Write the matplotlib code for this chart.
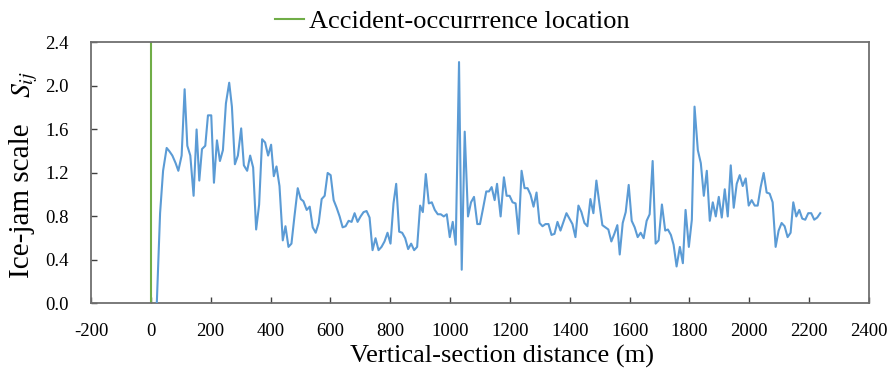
import matplotlib
matplotlib.use("Agg")
import matplotlib.pyplot as plt

# Data
distance_m = [20, 31, 41, 53, 62, 72, 83, 92, 103, 113, 122, 132, 143, 153, 162, 171, 182, 191, 202, 211,
              221, 231, 241, 251, 262, 271, 281, 291, 302, 311, 322, 332, 342, 352, 362, 372, 382, 392, 402, 411,
              420, 430, 441, 450, 460, 470, 480, 491, 501, 510, 521, 531, 541, 551, 561, 571, 581, 591, 601, 611,
              621, 631, 641, 651, 661, 671, 681, 691, 701, 711, 721, 731, 741, 751, 761, 771, 781, 791, 801, 811,
              820, 830, 840, 850, 860, 870, 880, 890, 900, 909, 919, 929, 939, 949, 959, 969, 979, 989, 999, 1009,
              1019, 1030, 1039, 1049, 1060, 1070, 1080, 1091, 1100, 1110, 1121, 1130, 1139, 1149, 1157, 1169, 1180, 1189, 1199, 1209,
              1219, 1229, 1239, 1249, 1259, 1269, 1279, 1289, 1299, 1309, 1319, 1329, 1339, 1349, 1359, 1369, 1379, 1389, 1399, 1409,
              1419, 1429, 1439, 1449, 1459, 1469, 1479, 1489, 1499, 1509, 1519, 1529, 1539, 1549, 1559, 1567, 1577, 1587, 1597, 1607,
              1617, 1627, 1637, 1647, 1657, 1667, 1677, 1687, 1697, 1708, 1719, 1728, 1738, 1747, 1757, 1768, 1778, 1787, 1798, 1808,
              1817, 1828, 1838, 1848, 1858, 1868, 1878, 1888, 1898, 1908, 1918, 1928, 1938, 1948, 1958, 1968, 1978, 1988, 1998, 2008,
              2018, 2028, 2038, 2048, 2058, 2068, 2078, 2088, 2098, 2108, 2118, 2128, 2138, 2147, 2157, 2167, 2177, 2187, 2197, 2207,
              2217, 2227, 2237]
ice_jam_scale = [0.00, 0.83, 1.22, 1.43, 1.40, 1.36, 1.29, 1.22, 1.36, 1.97, 1.45, 1.36, 0.99, 1.60, 1.13, 1.42, 1.45, 1.73, 1.73, 1.11,
                 1.50, 1.31, 1.41, 1.84, 2.03, 1.81, 1.28, 1.36, 1.61, 1.27, 1.22, 1.36, 1.25, 0.68, 0.91, 1.51, 1.48, 1.36, 1.46, 1.17,
                 1.26, 1.08, 0.58, 0.71, 0.52, 0.55, 0.80, 1.06, 0.96, 0.94, 0.86, 0.89, 0.70, 0.65, 0.74, 0.96, 0.99, 1.20, 1.18, 0.95,
                 0.88, 0.80, 0.70, 0.71, 0.76, 0.75, 0.83, 0.75, 0.80, 0.84, 0.85, 0.79, 0.49, 0.60, 0.49, 0.52, 0.57, 0.65, 0.55, 0.92,
                 1.10, 0.66, 0.65, 0.60, 0.50, 0.55, 0.49, 0.52, 0.90, 0.84, 1.19, 0.92, 0.93, 0.86, 0.82, 0.82, 0.80, 0.82, 0.61, 0.75,
                 0.54, 2.22, 0.31, 1.58, 0.80, 0.93, 0.98, 0.73, 0.73, 0.87, 1.03, 1.03, 1.07, 0.95, 1.10, 0.80, 1.16, 0.99, 0.99, 0.93,
                 0.92, 0.64, 1.22, 1.06, 1.06, 1.00, 0.89, 1.02, 0.74, 0.71, 0.73, 0.73, 0.63, 0.64, 0.75, 0.67, 0.75, 0.83, 0.78, 0.73,
                 0.61, 0.90, 0.84, 0.74, 0.71, 0.96, 0.83, 1.13, 0.92, 0.72, 0.70, 0.68, 0.57, 0.64, 0.72, 0.45, 0.74, 0.84, 1.09, 0.76,
                 0.70, 0.61, 0.65, 0.60, 0.76, 0.82, 1.31, 0.55, 0.58, 0.91, 0.67, 0.68, 0.63, 0.54, 0.34, 0.52, 0.37, 0.86, 0.52, 0.77,
                 1.81, 1.41, 1.29, 0.99, 1.22, 0.76, 0.93, 0.80, 0.98, 0.79, 1.05, 0.80, 1.27, 0.88, 1.10, 1.18, 1.08, 1.15, 0.90, 0.95,
                 0.90, 0.90, 1.07, 1.20, 1.02, 1.01, 0.93, 0.52, 0.67, 0.74, 0.71, 0.61, 0.65, 0.93, 0.80, 0.86, 0.78, 0.77, 0.83, 0.83,
                 0.77, 0.79, 0.83]
accident_location_m = 0
x_ticks = list(range(-200, 2401, 200))
y_ticks = [0.0, 0.4, 0.8, 1.2, 1.6, 2.0, 2.4]

plt.rcParams['font.family'] = ['Liberation Serif', 'DejaVu Serif']
plt.rcParams['mathtext.fontset'] = 'stix'

fig = plt.figure(figsize=(8.9, 3.76), dpi=100)
ax = fig.add_axes([0.1022, 0.193, 0.8742, 0.694])

blue = '#5B9BD5'
green = '#70AD47'

ax.plot(distance_m, ice_jam_scale, color=blue, lw=1.5, zorder=3, clip_on=True)
ax.axvline(accident_location_m, color=green, lw=1.5, zorder=2, label='Accident-occurrrence location')

ax.set_xlim(-200, 2400)
ax.set_ylim(0, 2.4)
ax.set_xticks(x_ticks)
ax.set_xticklabels([str(v) for v in x_ticks])
ax.set_yticks(y_ticks)
ax.set_yticklabels([f"{v:.1f}" for v in y_ticks])

for s in ax.spines.values():
    s.set_color('#6f6f6f')
    s.set_linewidth(1.3)
ax.tick_params(axis='both', direction='in', length=4, width=1, color='#404040', labelsize=13.5)
ax.tick_params(axis='x', pad=14)
ax.tick_params(axis='y', pad=16)
ax.tick_params(top=False, right=False)

ax.set_xlabel('Vertical-section distance (m)', fontsize=19)
ax.xaxis.set_label_coords(0.528, -0.158)
ax.set_ylabel('Ice-jam scale', fontsize=21, va='center')
ax.yaxis.set_label_coords(-0.088, 0.393)
ax.text(-0.085, 0.837, r'$S_{ij}$', transform=ax.transAxes, rotation=90,
        ha='center', va='center', fontsize=20)

fig.legend(loc='center', bbox_to_anchor=(0.508, 0.944), frameon=False, fontsize=19,
           handlelength=1.1, handletextpad=0.2, borderaxespad=0)

fig.savefig('out.png', dpi=100)
